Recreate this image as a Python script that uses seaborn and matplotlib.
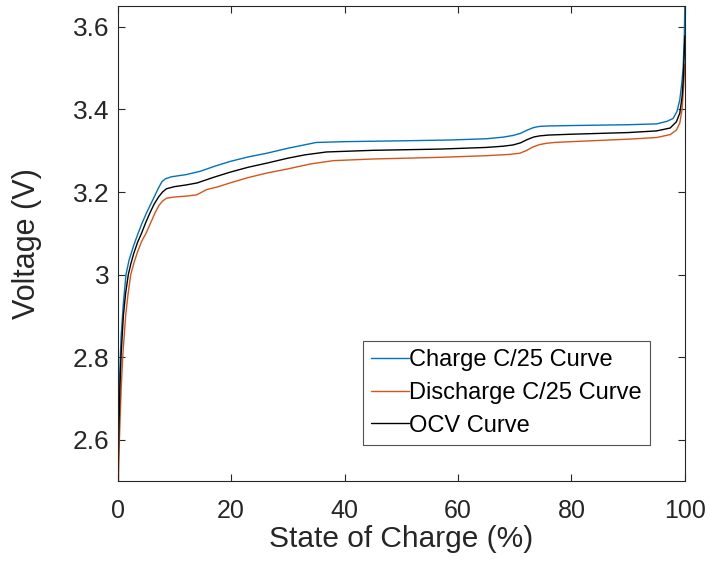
import numpy as np
import pandas as pd
import seaborn as sns
import matplotlib
matplotlib.use("Agg")
import matplotlib.pyplot as plt
from matplotlib.ticker import FixedLocator, FuncFormatter

# ---- data ----
charge_soc = [0, 0.1, 0.3, 0.6, 1.0, 1.46, 2.0, 2.8, 3.6, 4.3, 5.1, 5.8, 6.5, 7.2, 7.8, 8.4, 9.5, 12, 14.5,
              17, 19.8, 23, 26.3, 30, 35, 40, 50, 58.6, 65, 68, 69.7, 71, 72.2, 73.3, 74.4, 76, 80, 90, 95,
              96.8, 97.9, 98.6, 99.1, 99.5, 99.7, 99.9, 100]
charge_v = [2.52, 2.6, 2.74, 2.85, 2.93, 3.0, 3.035, 3.07, 3.1, 3.125, 3.15, 3.17, 3.19, 3.21, 3.225, 3.232,
            3.237, 3.242, 3.25, 3.262, 3.274, 3.285, 3.294, 3.306, 3.32, 3.322, 3.324, 3.326, 3.329, 3.333,
            3.337, 3.342, 3.35, 3.356, 3.359, 3.36, 3.361, 3.363, 3.365, 3.371, 3.378, 3.395, 3.423, 3.47,
            3.504, 3.58, 3.66]

discharge_soc = [0.1, 0.3, 0.6, 0.88, 1.4, 1.8, 2.3, 2.9, 3.5, 4.2, 5.0, 5.8, 6.6, 7.3, 7.9, 8.6, 10, 12,
                 13.9, 15.7, 17.5, 19.8, 23, 26.3, 30, 34, 38, 45, 56.8, 65, 69, 70.9, 72, 73.2, 74.4, 75.6,
                 77, 80, 90, 95, 97.4, 98.5, 99.1, 99.5, 99.7, 100]
discharge_v = [2.48, 2.6, 2.72, 2.8, 2.9, 2.95, 3.0, 3.03, 3.055, 3.08, 3.1, 3.125, 3.15, 3.168, 3.178,
               3.185, 3.188, 3.19, 3.193, 3.206, 3.212, 3.222, 3.235, 3.246, 3.256, 3.268, 3.276, 3.28,
               3.284, 3.288, 3.291, 3.294, 3.3, 3.309, 3.315, 3.318, 3.32, 3.322, 3.328, 3.332, 3.339, 3.35,
               3.367, 3.4, 3.44, 3.51]

ocv_soc = [0.05, 0.2, 0.4, 0.58, 1.0, 1.4, 1.87, 2.3, 2.8, 3.5, 4.2, 5.0, 5.7, 6.4, 7.2, 7.9, 8.6, 10, 12,
           14, 17, 19.8, 23, 26.3, 30, 33, 36.8, 45, 56.8, 65, 68, 69.7, 71, 72.2, 73.3, 74.4, 76, 80, 90,
           95, 97.4, 98.5, 99.1, 99.5, 99.7, 99.9, 100]
ocv_v = [2.5, 2.62, 2.73, 2.8, 2.9, 2.955, 3.0, 3.025, 3.05, 3.078, 3.1, 3.128, 3.15, 3.17, 3.188, 3.2,
         3.208, 3.213, 3.217, 3.222, 3.236, 3.248, 3.26, 3.27, 3.282, 3.29, 3.297, 3.301, 3.304, 3.308,
         3.311, 3.314, 3.319, 3.327, 3.333, 3.336, 3.338, 3.34, 3.344, 3.348, 3.355, 3.37, 3.391, 3.43,
         3.47, 3.54, 3.578]

labels = ["Charge C/25 Curve", "Discharge C/25 Curve", "OCV Curve"]
colors = ["#0072BD", "#D95319", "#000000"]
x_ticks = [0, 20, 40, 60, 80, 100]
y_ticks = [2.6, 2.8, 3.0, 3.2, 3.4, 3.6]

sns.set_style("white")
plt.rcParams["font.family"] = ["Liberation Sans", "DejaVu Sans"]

fig = plt.figure(figsize=(7.09, 5.64), dpi=100)
ax = fig.add_axes([0.166, 0.147, 0.800, 0.842])

for sx, sy, lab, col in zip([charge_soc, discharge_soc, ocv_soc],
                            [charge_v, discharge_v, ocv_v], labels, colors):
    df = pd.DataFrame({"soc": sx, "v": sy})
    sns.lineplot(data=df, x="soc", y="v", ax=ax, color=col, linewidth=1.0,
                 label=lab, sort=False, estimator=None)

ax.set_xlim(0, 100)
ax.set_ylim(2.5, 3.65)
ax.xaxis.set_major_locator(FixedLocator(x_ticks))
ax.yaxis.set_major_locator(FixedLocator(y_ticks))
ax.yaxis.set_major_formatter(FuncFormatter(lambda v, p: f"{v:g}"))

tc = "#262626"
ax.tick_params(direction="in", length=5, width=0.8, colors=tc, labelsize=19,
               top=True, right=True, bottom=True, left=True)
ax.tick_params(axis="y", pad=6)
ax.tick_params(axis="x", pad=13, labelsize=18)
for s in ax.spines.values():
    s.set_color(tc)
    s.set_linewidth(0.8)

ax.set_xlabel("State of Charge (%)", fontsize=21.5, color=tc, va="top")
ax.set_ylabel("Voltage (V)", fontsize=22, color=tc)
ax.xaxis.set_label_coords(0.5, -0.092)
ax.yaxis.set_label_coords(-0.134, 0.5)

leg = ax.legend(loc="upper left", bbox_to_anchor=(0.432, 0.295), fontsize=17,
                frameon=True, fancybox=False, handlelength=1.6, handletextpad=0.0,
                borderpad=0.35, labelspacing=0.45, borderaxespad=0.0)
leg.get_frame().set_edgecolor(tc)
leg.get_frame().set_linewidth(0.8)
for t in leg.get_texts():
    t.set_color("#000000")

fig.savefig("out.png", dpi=100)
